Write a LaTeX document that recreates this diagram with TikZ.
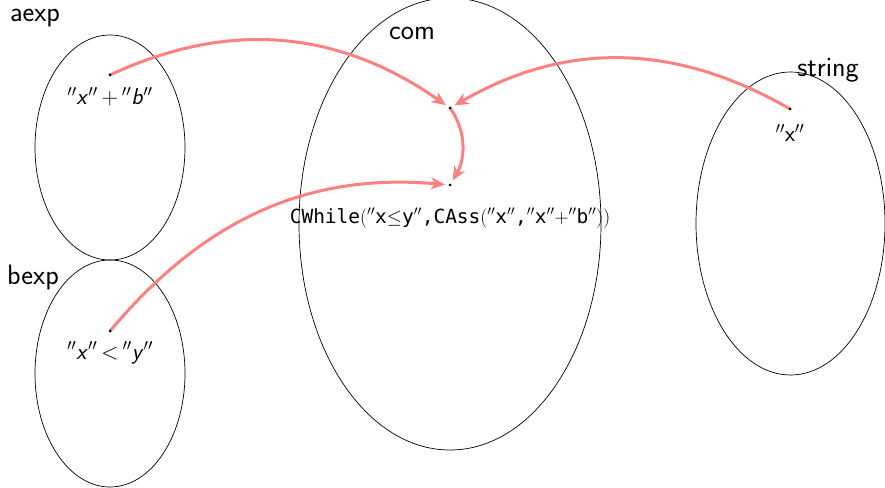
\documentclass[tikz,border=0pt]{standalone}
\usepackage{fix-cm}
\usepackage{fontspec}
\newfontfamily\codefont{DejaVu Sans Mono}
\usetikzlibrary{arrows.meta}
\newcommand{\mydq}{\ensuremath{{}^{\prime\prime}}}
\tikzset{
  x=1pt,y=1pt,
  setell/.style={draw=black,line width=0.7pt},
  setlabel/.style={font=\sffamily\fontsize{28}{32}\selectfont,inner sep=0pt},
  elemlabel/.style={font=\sffamily\fontsize{23}{26}\selectfont,inner sep=0pt},
  codelabel/.style={font=\codefont\fontsize{19.5}{23}\selectfont,inner sep=0pt},
  dotnode/.style={circle,fill=black,inner sep=0pt,minimum size=3pt},
  maparrow/.style={draw={rgb,255:red,255;green,128;blue,128},line width=3pt,
    -{Stealth[length=14pt,width=12pt,inset=4pt]},shorten >=5pt}
}
\begin{document}
\begin{tikzpicture}
\useasboundingbox (0,0) rectangle (885,487);
% sets
\draw[setell] (110,339.5) ellipse [x radius=75, y radius=112.5];
\draw[setell] (110,113.5) ellipse [x radius=75, y radius=113.5];
\draw[setell] (450,263) ellipse [x radius=151, y radius=226];
\draw[setell] (790.5,263.5) ellipse [x radius=94.5, y radius=151.5];
% set names
\node[setlabel] (aexp) at (35,469) {aexp};
\node[setlabel] (bexp) at (33,209) {bexp};
\node[setlabel] (com) at (412,454) {com};
\node[setlabel] (string) at (828,417) {string};
% element positions
\coordinate (a) at (110,412);
\coordinate (b) at (110,156);
\coordinate (c1) at (450,379);
\coordinate (c2) at (450,302);
\coordinate (s) at (790,378);
% mappings
\draw[maparrow] (a) to[out=25,in=145] (c1);
\draw[maparrow] (s) to[out=150,in=30] (c1);
\draw[maparrow] (c1) to[out=-55,in=60] (c2);
\draw[maparrow] (b) to[out=50,in=175] (c2);
% elements
\node[dotnode] (ad) at (a) {};
\node[dotnode] (bd) at (b) {};
\node[dotnode] (c1d) at (c1) {};
\node[dotnode] (c2d) at (c2) {};
\node[dotnode] (sd) at (s) {};
\node[elemlabel] (al) at (110,390) {\mydq\textit{x}\mydq\,$+$\,\mydq\textit{b}\mydq};
\node[elemlabel] (bl) at (110,134) {\mydq\textit{x}\mydq\,$<$\,\mydq\textit{y}\mydq};
\node[codelabel] (cl) at (450,269) {CWhile$($\mydq x$\leq$y\mydq,CAss$($\mydq x\mydq,\mydq x\mydq$+$\mydq b\mydq$))$};
\node[elemlabel] (sl) at (790,354) {\mydq x\mydq};
\end{tikzpicture}
\end{document}
